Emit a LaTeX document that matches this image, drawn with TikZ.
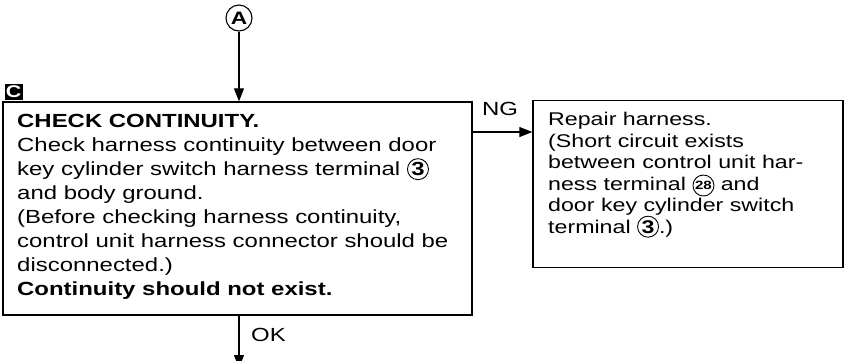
\documentclass[tikz,border=0pt]{standalone}
\usepackage{fontspec}
\setmainfont{Liberation Sans}[FakeStretch=1.26]
\usetikzlibrary{arrows.meta}
\newcommand\cnum[1]{\smash{\tikz[baseline=(cn.base)]\node[circle,draw,line width=0.9pt,inner sep=0pt,minimum size=21pt](cn){\bfseries #1};}}
\newcommand\cnumsm[1]{\smash{\tikz[baseline={([yshift=-4.5pt]cs.center)}]\node[circle,draw,line width=0.9pt,inner sep=0pt,minimum size=21pt,font=\fontsize{12}{12}\selectfont\bfseries](cs){#1};}}
\begin{document}
\begin{tikzpicture}[x=1pt,y=-1pt,
  box/.style={draw,line width=1.3pt,inner sep=0pt},
  conn/.style={line width=1.1pt,-{Triangle[length=13pt,width=10pt]}},
  lbl/.style={inner sep=0pt,font=\fontsize{19}{24}\selectfont},
  lblr/.style={inner sep=0pt,font=\fontsize{18.4}{21.5}\selectfont}]
\useasboundingbox (0,0) rectangle (849,360);
\clip (0,0) rectangle (849,360);
% boxes
\node[box,minimum width=469pt,minimum height=213pt] (main) at (237.5,208.5) {};
\node[box,minimum width=310pt,minimum height=167pt] (rep) at (688,184) {};
% label C
\node[fill=black,text=white,inner sep=0pt,minimum width=18pt,minimum height=16pt,
  font=\fontsize{17}{17}\selectfont\bfseries] (lblC) at (13.5,91.5) {C};
% connector A
\node[circle,draw,line width=1.1pt,minimum size=26pt,inner sep=0pt,
  font=\fontsize{18}{18}\selectfont\bfseries] (A) at (239,18) {A};
\draw[conn] (A) -- (A |- main.north);
% main text
\node[lbl,anchor=base west] (maintext) at (17,127.7) {\begin{tabular}[t]{@{}l@{}}
\bfseries CHECK CONTINUITY.\\
Check harness continuity between door\\
key cylinder switch harness terminal \cnum{3}\\
and body ground.\\
(Before checking harness continuity,\\
control unit harness connector should be\\
disconnected.)\\
\bfseries Continuity should not exist.
\end{tabular}};
% right text
\node[lblr,anchor=base west] (reptext) at (548,125.5) {\begin{tabular}[t]{@{}l@{}}
Repair harness.\\
(Short circuit exists\\
between control unit har-\\
ness terminal \cnumsm{28} and\\
door key cylinder switch\\
terminal \cnum{3}.)
\end{tabular}};
% NG connector
\coordinate (ngy) at (0,132);
\draw[conn] (main.east |- ngy) -- (rep.west |- ngy);
\node[lbl,anchor=base west] (ng) at (482,115) {NG};
% OK connector
\coordinate (next) at (239,368);
\draw[conn] (main.south -| next) -- (next);
\node[lbl,anchor=base west] (ok) at (251,341) {OK};
\end{tikzpicture}
\end{document}
